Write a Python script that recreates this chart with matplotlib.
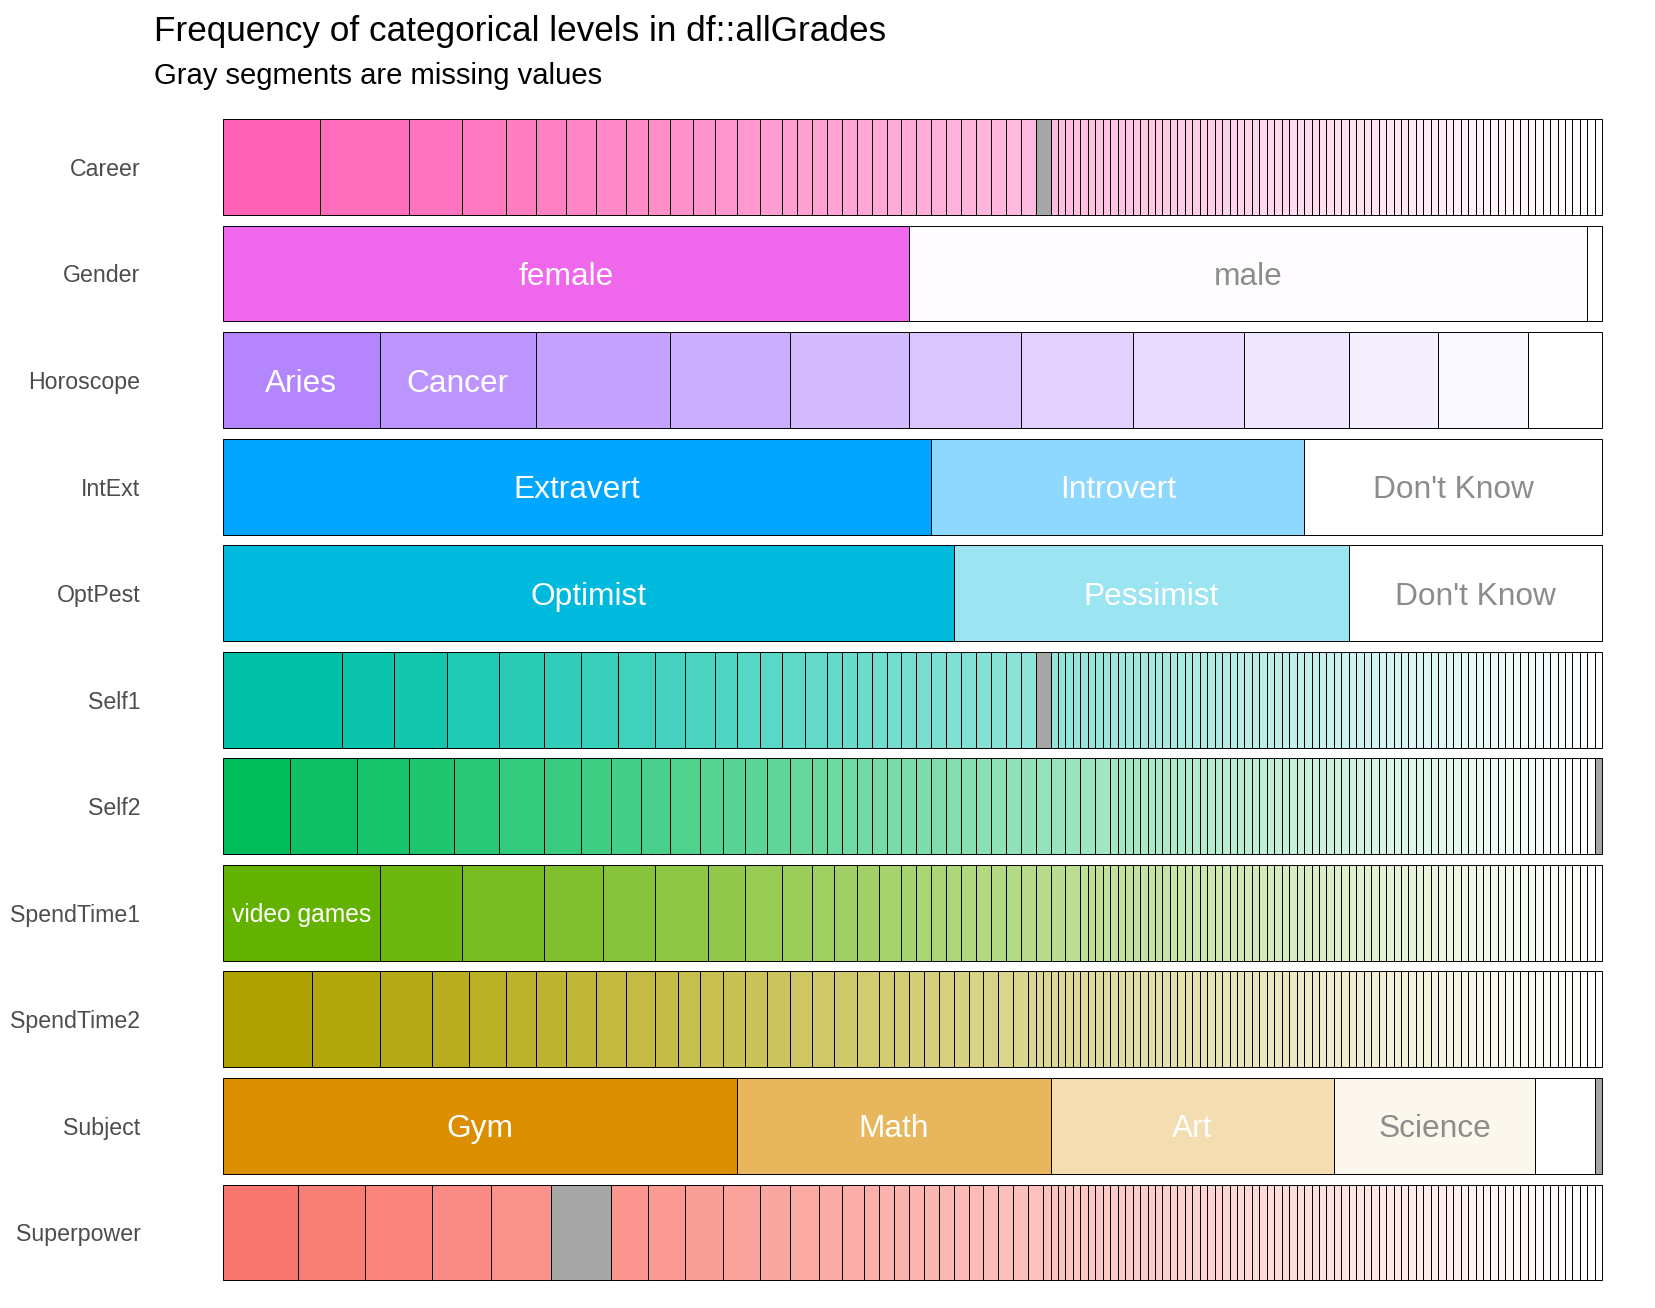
import matplotlib
matplotlib.use("Agg")
import matplotlib.pyplot as plt
from matplotlib.colors import to_rgb
import numpy as np

plt.rcParams['font.family'] = ['Liberation Sans', 'DejaVu Sans']

columns = ["Career", "Gender", "Horoscope", "IntExt", "OptPest", "Self1",
           "Self2", "SpendTime1", "SpendTime2", "Subject", "Superpower"]

# level counts (n = 185 rows), in plotted (frequency) order, non-missing levels
career_counts = [13, 12, 7, 6, 4, 4, 4, 4, 3, 3, 3, 3, 3, 3, 3,
                 2, 2, 2, 2, 2, 2, 2, 2, 2, 2, 2, 2, 2, 2, 2, 2, 2,
                 1, 1, 1, 1, 1, 1, 1, 1, 1, 1, 1, 1, 1, 1, 1, 1, 1, 1, 1, 1,
                 1, 1, 1, 1, 1, 1, 1, 1, 1, 1, 1, 1, 1, 1, 1, 1, 1, 1, 1, 1,
                 1, 1, 1, 1, 1, 1, 1, 1, 1, 1, 1, 1, 1, 1, 1, 1, 1, 1, 1, 1,
                 1, 1, 1, 1, 1, 1, 1, 1, 1, 1, 1, 1, 1, 1]
gender_counts = [92, 91, 2]
horoscope_counts = [21, 21, 18, 16, 16, 15, 15, 15, 14, 12, 12, 10]
intext_counts = [95, 50, 40]
optpest_counts = [98, 53, 34]
self1_counts = [16, 7, 7, 7, 6, 5, 5, 5, 4, 4, 3, 3, 3, 3, 3,
                2, 2, 2, 2, 2, 2, 2, 2, 2, 2, 2, 2, 2, 2,
                1, 1, 1, 1, 1, 1, 1, 1, 1, 1, 1, 1, 1, 1, 1, 1, 1, 1, 1, 1,
                1, 1, 1, 1, 1, 1, 1, 1, 1, 1, 1, 1, 1, 1, 1, 1, 1, 1, 1, 1,
                1, 1, 1, 1, 1, 1, 1, 1, 1, 1, 1, 1, 1, 1, 1, 1, 1, 1, 1, 1,
                1, 1, 1, 1, 1, 1, 1, 1, 1, 1, 1, 1, 1, 1]
self2_counts = [9, 9, 7, 6, 6, 6, 5, 4, 4, 4, 4, 3, 3, 3, 3, 3,
                2, 2, 2, 2, 2, 2, 2, 2, 2, 2, 2, 2, 2, 2, 2, 2, 2, 2, 2, 2,
                1, 1, 1, 1, 1, 1, 1, 1, 1, 1, 1, 1, 1, 1, 1, 1, 1, 1, 1, 1,
                1, 1, 1, 1, 1, 1, 1, 1, 1, 1, 1, 1, 1, 1, 1, 1, 1, 1, 1, 1,
                1, 1, 1, 1, 1, 1, 1, 1, 1, 1, 1, 1, 1, 1, 1, 1, 1, 1, 1, 1,
                1, 1, 1, 1, 1]
spendtime1_counts = [21, 11, 11, 8, 7, 7, 5, 5, 4, 3, 3, 3, 3,
                     2, 2, 2, 2, 2, 2, 2, 2, 2, 2, 2, 2,
                     1, 1, 1, 1, 1, 1, 1, 1, 1, 1, 1, 1, 1, 1, 1, 1, 1, 1, 1, 1,
                     1, 1, 1, 1, 1, 1, 1, 1, 1, 1, 1, 1, 1, 1, 1, 1, 1, 1, 1, 1,
                     1, 1, 1, 1, 1, 1, 1, 1, 1, 1, 1, 1, 1, 1, 1, 1, 1, 1, 1, 1,
                     1, 1, 1, 1, 1, 1, 1, 1, 1, 1]
spendtime2_counts = [12, 9, 7, 5, 5, 4, 4, 4, 4, 4,
                     3, 3, 3, 3, 3, 3, 3, 3, 3, 3,
                     2, 2, 2, 2, 2, 2, 2, 2, 2, 2,
                     1, 1, 1, 1, 1, 1, 1, 1, 1, 1, 1, 1, 1, 1, 1, 1, 1, 1, 1, 1,
                     1, 1, 1, 1, 1, 1, 1, 1, 1, 1, 1, 1, 1, 1, 1, 1, 1, 1, 1, 1,
                     1, 1, 1, 1, 1, 1, 1, 1, 1, 1, 1, 1, 1, 1, 1, 1, 1, 1, 1, 1,
                     1, 1, 1, 1, 1, 1, 1, 1, 1, 1, 1, 1, 1, 1, 1, 1, 1]
subject_counts = [69, 42, 38, 27, 8]
superpower_counts = [10, 9, 9, 8, 8, 5, 5, 5, 5, 4, 4, 3, 3,
                     2, 2, 2, 2, 2, 2, 2, 2, 2, 2, 2, 2,
                     1, 1, 1, 1, 1, 1, 1, 1, 1, 1, 1, 1, 1, 1, 1, 1, 1, 1, 1, 1,
                     1, 1, 1, 1, 1, 1, 1, 1, 1, 1, 1, 1, 1, 1, 1, 1, 1, 1, 1, 1,
                     1, 1, 1, 1, 1, 1, 1, 1, 1, 1, 1, 1, 1, 1, 1, 1, 1, 1, 1, 1,
                     1, 1, 1, 1, 1, 1, 1, 1, 1, 1, 1, 1, 1, 1, 1]

# number of missing values per column
na_counts = {"Career": 2, "Self1": 2, "Self2": 1, "Subject": 1, "Superpower": 8}

# names of the leading levels (only those large enough to be labelled)
level_names = {
    "Gender": ["female", "male"],
    "Horoscope": ["Aries", "Cancer"],
    "IntExt": ["Extravert", "Introvert", "Don't Know"],
    "OptPest": ["Optimist", "Pessimist", "Don't Know"],
    "SpendTime1": ["video games"],
    "Subject": ["Gym", "Math", "Art", "Science"],
}

all_counts = {
    "Career": career_counts, "Gender": gender_counts, "Horoscope": horoscope_counts,
    "IntExt": intext_counts, "OptPest": optpest_counts, "Self1": self1_counts,
    "Self2": self2_counts, "SpendTime1": spendtime1_counts,
    "SpendTime2": spendtime2_counts, "Subject": subject_counts,
    "Superpower": superpower_counts,
}

base_colors = ["#FF63B6", "#EF67EB", "#B385FF", "#00A6FF", "#00BADE", "#00C1A7",
               "#00BD5C", "#64B200", "#AEA200", "#DB8E00", "#F8766D"]

W, H = 1656, 1308
fig = plt.figure(figsize=(W / 100, H / 100), dpi=100)
ax = fig.add_axes([223 / W, 11.6 / H, (1602.3 - 223) / W, (1296.4 - 103) / H])
ax.set_xlim(0, 1)
ax.set_ylim(len(columns) - 1 + 0.6, -0.6)
for s in ax.spines.values():
    s.set_visible(False)
ax.set_xticks([])
ax.set_yticks(range(len(columns)))
ax.set_yticklabels(columns, fontsize=16.7, color="#4D4D4D")
ax.tick_params(axis="y", length=0, pad=59.4)

fig.canvas.draw()
renderer = fig.canvas.get_renderer()
ax_w_px = ax.get_window_extent().width

for row, (col, base) in enumerate(zip(columns, base_colors)):
    counts = all_counts[col]
    na = na_counts.get(col)
    segs = []
    inserted = na is None
    for c in counts:
        if not inserted and c < na:
            segs.append((na, True))
            inserted = True
        segs.append((c, False))
    if not inserted:
        segs.append((na, True))
    total = sum(v for v, _ in segs)
    vals = [v for v, isna in segs if not isna]
    cum = np.cumsum(vals)
    span = cum[-1] - cum[0]
    shades = (cum - cum[0]) / span if span > 0 else np.zeros(len(cum))
    rgb = np.array(to_rgb(base))
    left = 0.0
    k = 0
    names = level_names.get(col, [])
    for v, isna in segs:
        w = v / total
        if isna:
            fc = "#A6A6A6"
        else:
            t = shades[k]
            fc = tuple(rgb * (1 - t) + t)
        ax.barh(row, w, left=left, height=0.9, color=fc, edgecolor="black",
                linewidth=0.7, clip_on=False)
        if not isna:
            if k < len(names) and w >= 0.1:
                tc = "white" if shades[k] < 0.8 else "#8C8C8C"
                txt = ax.text(left + w / 2, row, names[k], ha="center",
                              va="center_baseline", fontsize=22.8, color=tc)
                tw = txt.get_window_extent(renderer).width
                maxw = 0.894 * w * ax_w_px
                if tw > maxw:
                    txt.set_fontsize(22.8 * maxw / tw)
            k += 1
        left += w

fig.text(154 / W, 1 - 41 / H, "Frequency of categorical levels in df::allGrades",
         fontsize=25.3, ha="left", va="baseline", color="black")
fig.text(154 / W, 1 - 84.5 / H, "Gray segments are missing values",
         fontsize=21.1, ha="left", va="baseline", color="black")

fig.savefig("out.png", dpi=100, facecolor="white")
